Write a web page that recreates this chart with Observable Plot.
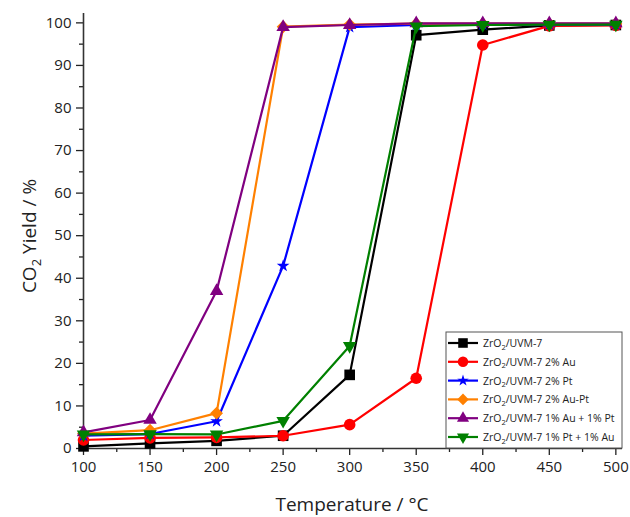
<!DOCTYPE html>
<html><head><meta charset="utf-8">
<script src="https://cdn.jsdelivr.net/npm/d3@7"></script>
<script src="https://cdn.jsdelivr.net/npm/@observablehq/plot@0.6"></script>
<style>body{margin:0;background:#fff;} svg{display:block;}</style>
</head><body><div id="chart"></div>
<script>
const temperatures = [100, 150, 200, 250, 300, 350, 400, 450, 500];
const seriesSuffixes = ["", " 2% Au", " 2% Pt", " 2% Au-Pt", " 1% Au + 1% Pt", " 1% Pt + 1% Au"];
const seriesColors = ["#000000", "#ff0000", "#0000ff", "#ff8000", "#800080", "#008000"];
const seriesSymbols = ["square", "circle", "star", "diamond2", "triangle", "triangle"];
const seriesRotate = [0, 0, 0, 0, 0, 180];
const seriesR = [6, 5.8, 4, 5.8, 5, 5];
const yieldBare   = [0.5, 1.2, 1.8, 3.0, 17.3, 97.1, 98.4, 99.4, 99.5];
const yieldAu     = [2.0, 2.5, 2.6, 3.0, 5.6, 16.5, 94.8, 99.3, 99.4];
const yieldPt     = [3.0, 3.4, 6.4, 42.9, 99.0, 99.5, 99.6, 99.6, 99.6];
const yieldAuPt   = [3.5, 4.3, 8.3, 99.1, 99.6, 99.8, 99.8, 99.8, 99.8];
const yieldAu1Pt1 = [3.8, 6.7, 37.0, 99.0, 99.5, 99.9, 99.9, 99.9, 99.9];
const yieldPt1Au1 = [3.3, 3.4, 3.3, 6.5, 24.1, 99.2, 99.5, 99.6, 99.6];
const allYields = [yieldBare, yieldAu, yieldPt, yieldAuPt, yieldAu1Pt1, yieldPt1Au1];
const xTicks = [100, 150, 200, 250, 300, 350, 400, 450, 500];
const xMinorTicks = [125, 175, 225, 275, 325, 375, 425, 475];
const yTicks = [0, 10, 20, 30, 40, 50, 60, 70, 80, 90, 100];
const yMinorTicks = [5, 15, 25, 35, 45, 55, 65, 75, 85, 95];

const series = allYields.map((vals, i) => vals.map((v, j) => ({t: temperatures[j], v, s: i})));

const seriesMarks = series.flatMap((rows, i) => [
  Plot.line(rows, {x: "t", y: "v", stroke: seriesColors[i], strokeWidth: 2.2}),
  Plot.dot(rows, {x: "t", y: "v", fill: seriesColors[i], stroke: "none", symbol: seriesSymbols[i], r: seriesR[i], rotate: seriesRotate[i]})
]);

const chart = Plot.plot({
  width: 630, height: 517,
  marginLeft: 83, marginRight: 8, marginTop: 13, marginBottom: 69,
  style: {fontFamily: "'Open Sans', sans-serif", fontSize: "15px", color: "#222", background: "#fff"},
  x: {domain: [100, 505]},
  y: {domain: [0, 102.2]},
  marks: [
    Plot.axisY({ticks: yTicks, tickSize: 7, tickPadding: 5, strokeWidth: 1.3, label: null, tickFormat: d => d}),
    Plot.axisY({ticks: yMinorTicks, tickSize: 4, strokeWidth: 1.3, fill: "none", label: null}),
    Plot.axisX({ticks: xTicks, tickSize: 7, tickPadding: 6, strokeWidth: 1.3, label: null, tickFormat: d => d}),
    Plot.axisX({ticks: xMinorTicks, tickSize: 4, strokeWidth: 1.3, fill: "none", label: null}),
    Plot.ruleY([0], {stroke: "#333", strokeWidth: 1.6}),
    Plot.ruleX([100], {stroke: "#333", strokeWidth: 1.6}),
    ...seriesMarks
  ]
});
document.getElementById("chart").append(chart);

const svg = d3.select(chart);
const font = "'Open Sans', sans-serif";
// X title
svg.append("text").attr("x", 352).attr("y", 511).attr("text-anchor", "middle")
  .attr("font-family", font).attr("font-size", 19).attr("fill", "#222")
  .text("Temperature / °C");
// Y title
const yt = svg.append("text").attr("transform", "translate(36,236) rotate(-90)")
  .attr("text-anchor", "middle").attr("font-family", font).attr("font-size", 19).attr("fill", "#222");
yt.append("tspan").text("CO");
yt.append("tspan").attr("font-size", 13).attr("dy", 5).text("2");
yt.append("tspan").attr("dy", -5).text(" Yield / %");

// Legend
const lg = svg.append("g").attr("text-anchor", "start");
const lx = 446, ly = 332, lw = 176, lh = 116;
lg.append("rect").attr("x", lx).attr("y", ly).attr("width", lw).attr("height", lh)
  .attr("fill", "#fff").attr("stroke", "#555").attr("stroke-width", 1);
const d3Symbols = {square: d3.symbolSquare, circle: d3.symbolCircle, star: d3.symbolStar, diamond2: d3.symbolDiamond2, triangle: d3.symbolTriangle};
seriesSuffixes.forEach((suf, i) => {
  const cy = ly + 11 + i * 18.8;
  lg.append("line").attr("x1", lx + 2).attr("x2", lx + 32).attr("y1", cy).attr("y2", cy)
    .attr("stroke", seriesColors[i]).attr("stroke-width", 2.2);
  const rr = seriesR[i] * 0.9;
  lg.append("path").attr("d", d3.symbol(d3Symbols[seriesSymbols[i]], Math.PI * rr * rr)())
    .attr("transform", `translate(${lx + 17},${cy}) rotate(${seriesRotate[i]})`)
    .attr("fill", seriesColors[i]);
  const t = lg.append("text").attr("x", lx + 37).attr("y", cy + 4).attr("text-anchor", "start")
    .attr("font-family", font).attr("font-size", 10.5).attr("fill", "#222");
  t.append("tspan").text("ZrO");
  t.append("tspan").attr("font-size", 7.5).attr("dy", 2.5).text("2");
  t.append("tspan").attr("dy", -2.5).text("/UVM-7" + suf);
});
</script>
</body></html>
